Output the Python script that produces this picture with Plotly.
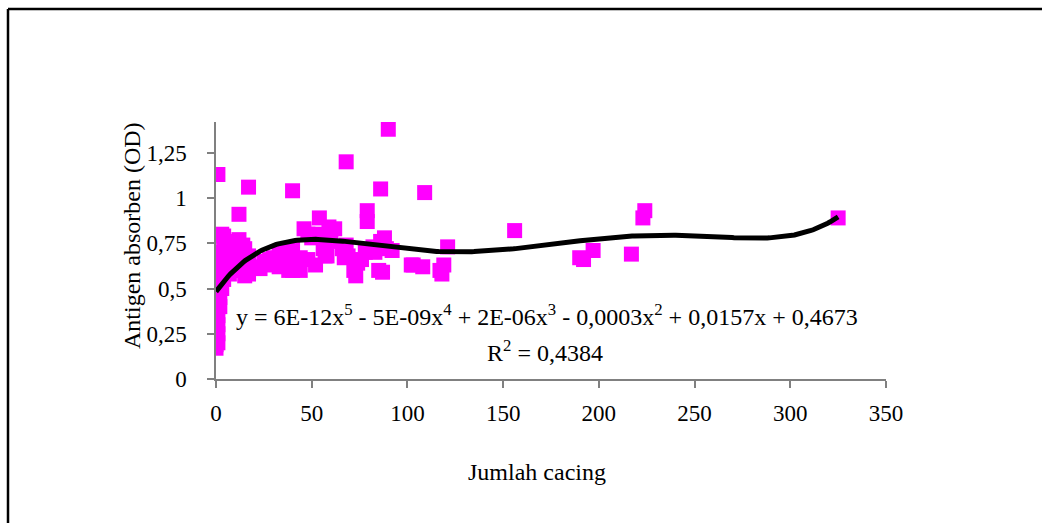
import numpy as np
import plotly.graph_objects as go

# Data (x = Jumlah cacing, y = Antigen absorben OD)
jumlah_cacing = [
    0, 0, 0, 0, 0, 0, 0, 0, 0, 0, 0, 0, 0, 0, 0, 0,
    1, 1, 1, 1, 1, 1, 1, 1, 1, 1, 1,
    2, 2, 2, 2, 2, 2,
    3, 3, 3, 3,
    4, 4, 4, 4,
    5, 5, 6, 6, 7, 7, 8, 8,
    10, 10, 10, 12, 12, 12, 12, 14, 14, 15, 15,
    17, 17, 17, 20, 23, 25, 28, 28, 30, 33, 33, 36, 38, 38,
    40, 40, 40, 42, 44, 44, 46, 48, 48, 50, 52, 54, 54, 56, 57, 58, 59, 60, 62,
    66, 67, 68, 68, 69, 72, 73, 74, 76, 78, 79, 79, 82, 83, 85, 86, 86, 87, 88,
    89, 90, 92, 102, 103, 108, 109, 117, 118, 119, 121,
    156, 190, 192, 197, 217, 223, 224, 325,
]
antigen_od = [
    0.17, 0.19, 0.22, 0.24, 0.27, 0.29, 0.32, 0.34, 0.37, 0.39, 0.42, 0.44, 0.47, 0.52, 0.57, 0.61,
    1.13, 0.20, 0.25, 0.30, 0.35, 0.40, 0.45, 0.50, 0.55, 0.60, 0.64,
    0.40, 0.45, 0.52, 0.58, 0.62, 0.66,
    0.50, 0.60, 0.70, 0.80,
    0.55, 0.64, 0.72, 0.79,
    0.60, 0.68, 0.66, 0.74, 0.58, 0.70, 0.62, 0.72,
    0.60, 0.66, 0.76, 0.91, 0.70, 0.77, 0.60, 0.66, 0.74, 0.57, 0.72,
    1.06, 0.58, 0.68, 0.62, 0.61, 0.65, 0.63, 0.66, 0.67, 0.62, 0.70, 0.64, 0.60, 0.68,
    1.04, 0.60, 0.72, 0.65, 0.60, 0.67, 0.83, 0.66, 0.80, 0.78, 0.63, 0.89, 0.80, 0.72, 0.68, 0.68, 0.84, 0.76, 0.83,
    0.72, 0.67, 1.20, 0.74, 0.68, 0.60, 0.57, 0.64, 0.66, 0.70, 0.93, 0.87, 0.73, 0.70, 0.60, 1.05, 0.76, 0.59, 0.78,
    0.72, 1.38, 0.71, 0.63, 0.63, 0.62, 1.03, 0.60, 0.58, 0.63, 0.73,
    0.82, 0.67, 0.66, 0.71, 0.69, 0.89, 0.93, 0.89,
]

x_ticks = [0, 50, 100, 150, 200, 250, 300, 350]
y_ticks = [0, 0.25, 0.5, 0.75, 1, 1.25]
y_tick_text = ["0", "0,25", "0,5", "0,75", "1", "1,25"]

# 5th-order polynomial trendline fitted to the data (as Excel does)
coef = np.polyfit(jumlah_cacing, antigen_od, 5)
xs = np.linspace(min(jumlah_cacing), max(jumlah_cacing), 300)
ys = np.polyval(coef, xs)

FONT = "Liberation Serif"
AX = "#808080"

fig = go.Figure()
fig.add_trace(go.Scatter(
    x=jumlah_cacing, y=antigen_od, mode="markers",
    marker=dict(symbol="square", size=15, color="#FF00FF", line=dict(width=0)),
    showlegend=False, hoverinfo="x+y",
))
fig.add_trace(go.Scatter(
    x=xs, y=ys, mode="lines", line=dict(color="black", width=5),
    showlegend=False, hoverinfo="skip",
))

W, H = 1042, 523
L, R, T, B = 216, 886, 122, 379

def px(xp):
    return (xp - L) / (R - L)

def py(yp):
    return (B - yp) / (B - T)

fig.update_layout(
    width=W, height=H,
    margin=dict(l=L, r=W - R, t=T, b=H - B, pad=0),
    paper_bgcolor="white", plot_bgcolor="white",
    font=dict(family=FONT, size=23, color="black"),
    xaxis=dict(range=[0, 350], tickvals=x_ticks, showgrid=False, zeroline=False,
               showline=True, linecolor=AX, linewidth=1.5, ticks="outside",
               ticklen=7, tickcolor=AX, tickwidth=1.5, ticklabelstandoff=6,
               tickfont=dict(family=FONT, size=23), fixedrange=True),
    yaxis=dict(range=[0, 1.42], tickvals=y_ticks, ticktext=y_tick_text,
               showgrid=False, zeroline=False,
               showline=True, linecolor=AX, linewidth=1.5, ticks="outside",
               ticklen=7, tickcolor=AX, tickwidth=1.5, ticklabelstandoff=16,
               tickfont=dict(family=FONT, size=23), fixedrange=True),
    shapes=[
        dict(type="line", xref="paper", yref="paper",
             x0=px(8), x1=px(1050), y0=py(9), y1=py(9),
             line=dict(color="black", width=2.5)),
        dict(type="line", xref="paper", yref="paper",
             x0=px(8), x1=px(8), y0=py(9), y1=py(530),
             line=dict(color="black", width=2.5)),
    ],
    annotations=[
        dict(text="y = 6E-12x<sup>5</sup> - 5E-09x<sup>4</sup> + 2E-06x<sup>3</sup> - 0,0003x<sup>2</sup> + 0,0157x + 0,4673",
             xref="paper", yref="paper", x=px(547), y=py(315), showarrow=False,
             xanchor="center", yanchor="middle", font=dict(family=FONT, size=24)),
        dict(text="R<sup>2</sup> = 0,4384",
             xref="paper", yref="paper", x=px(545), y=py(351), showarrow=False,
             xanchor="center", yanchor="middle", font=dict(family=FONT, size=24)),
        dict(text="Antigen absorben (OD)", textangle=-90,
             xref="paper", yref="paper", x=px(132), y=py(236), showarrow=False,
             xanchor="center", yanchor="middle", font=dict(family=FONT, size=24)),
        dict(text="Jumlah cacing",
             xref="paper", yref="paper", x=px(537), y=py(472), showarrow=False,
             xanchor="center", yanchor="middle", font=dict(family=FONT, size=24)),
    ],
)

fig.write_html("out.html", config={"displayModeBar": False},
               post_script="document.body.style.margin='0px';")
